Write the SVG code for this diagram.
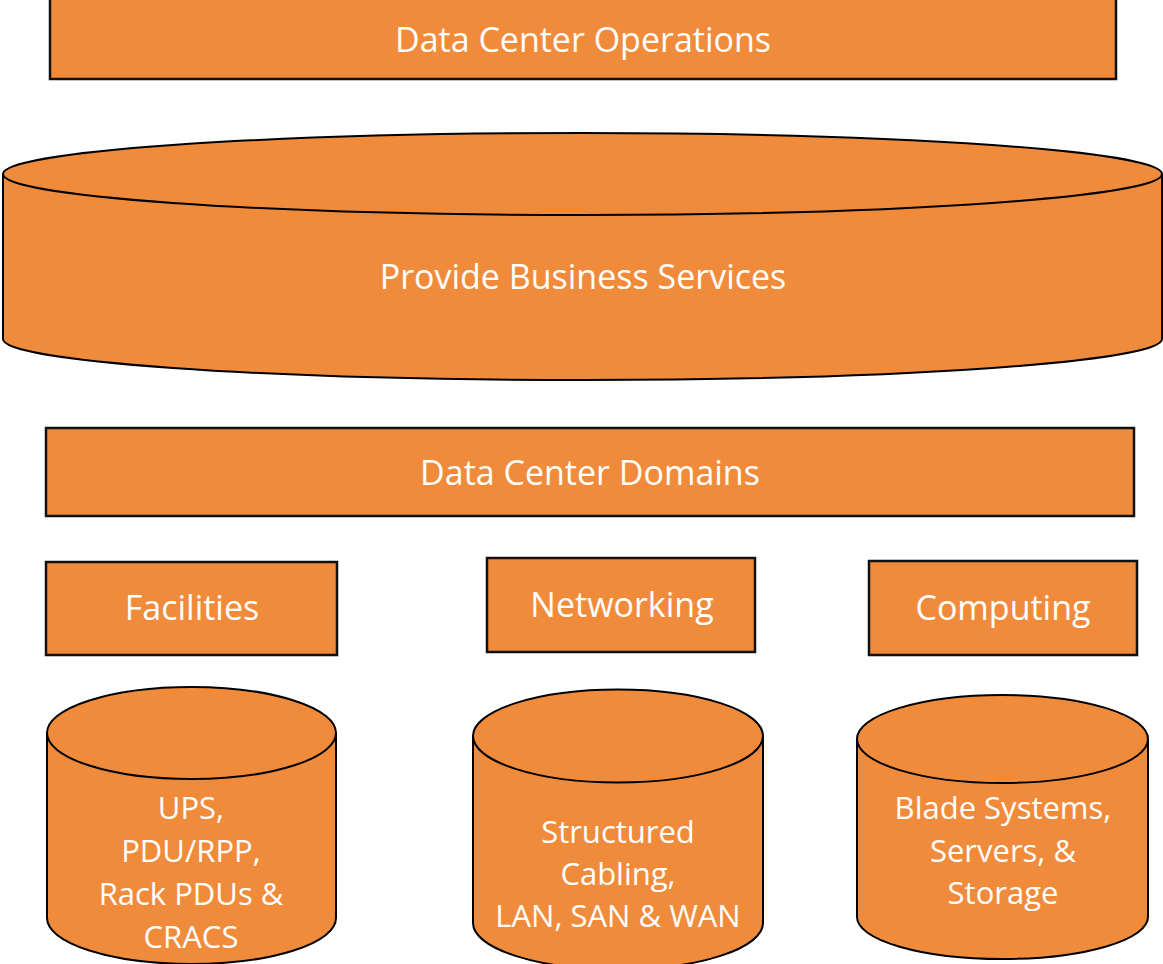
<svg xmlns="http://www.w3.org/2000/svg" width="1163" height="964" viewBox="0 0 1163 964">
<style>
.box{fill:#F18B3C;stroke:#111;stroke-width:2.5}
.cyl{fill:#F18B3C;stroke:#000;stroke-width:2}
.t{font-family:"Open Sans","Noto Sans",sans-serif;fill:#fff;text-anchor:middle}
.h{font-size:34px}
.s{font-size:31px}
</style>
<rect width="1163" height="964" fill="#fff"/>
<g id="ops">
<rect class="box" x="50" y="-2" width="1066" height="81"/>
<text class="t h" x="583" y="52">Data Center Operations</text>
</g>
<g id="business">
<path class="cyl" d="M3,174 V339 A579.5,41 0 0 0 1162,339 V174"/>
<ellipse class="cyl" cx="582.5" cy="174" rx="579.5" ry="41"/>
<text class="t h" x="583" y="289">Provide Business Services</text>
</g>
<g id="domains">
<rect class="box" x="46" y="428" width="1088" height="88"/>
<text class="t h" x="590" y="485">Data Center Domains</text>
</g>
<g id="facilities">
<rect class="box" x="46" y="562" width="291" height="93"/>
<text class="t h" x="192" y="620">Facilities</text>
</g>
<g id="networking">
<rect class="box" x="487" y="558" width="268" height="94"/>
<text class="t h" x="622" y="617">Networking</text>
</g>
<g id="computing">
<rect class="box" x="869" y="561" width="268" height="94"/>
<text class="t h" x="1003" y="620">Computing</text>
</g>
<g id="facilities-store">
<path class="cyl" d="M47,733 V918 A144.5,46 0 0 0 336,918 V733"/>
<ellipse class="cyl" cx="191.5" cy="733" rx="144.5" ry="46"/>
<text class="t s" x="191" y="819">UPS,</text>
<text class="t s" x="191" y="862">PDU/RPP,</text>
<text class="t s" x="191" y="905">Rack PDUs &amp;</text>
<text class="t s" x="191" y="948">CRACS</text>
</g>
<g id="networking-store">
<path class="cyl" d="M473,736 V923 A145,46.5 0 0 0 763,923 V736"/>
<ellipse class="cyl" cx="618" cy="736" rx="145" ry="46.5"/>
<text class="t s" x="618" y="843">Structured</text>
<text class="t s" x="618" y="885">Cabling,</text>
<text class="t s" x="618" y="927">LAN, SAN &amp; WAN</text>
</g>
<g id="computing-store">
<path class="cyl" d="M857,739 V917 A145.5,42 0 0 0 1148,917 V739"/>
<ellipse class="cyl" cx="1002.5" cy="739" rx="145.5" ry="44"/>
<text class="t s" x="1003" y="819">Blade Systems,</text>
<text class="t s" x="1003" y="862">Servers, &amp;</text>
<text class="t s" x="1003" y="904">Storage</text>
</g>
<g id="connectors"></g>
</svg>
